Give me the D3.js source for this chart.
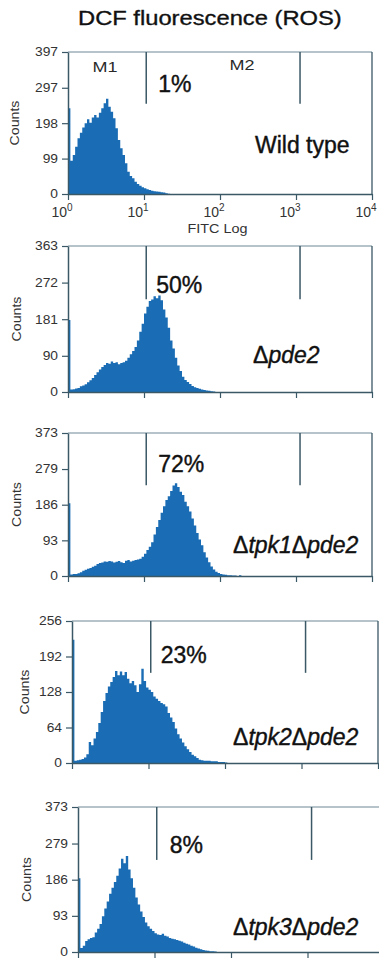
<!DOCTYPE html>
<html><head><meta charset="utf-8">
<script src="https://cdn.jsdelivr.net/npm/d3@7"></script>
<style>html,body{margin:0;padding:0;background:#fff;} svg{display:block;}</style>
</head><body><svg id="chart" width="379" height="962"></svg>
<script>
// ---------------- data ----------------
const title = "DCF fluorescence (ROS)";
const strains = ["Wild type", "Δpde2", "Δtpk1Δpde2", "Δtpk2Δpde2", "Δtpk3Δpde2"];
const percents = ["1%", "50%", "72%", "23%", "8%"];
const yMax = [397, 363, 373, 256, 373];
const yTicks = [
  [0, 99, 198, 297, 397],
  [0, 90, 181, 272, 363],
  [0, 93, 186, 279, 373],
  [0, 64, 128, 192, 256],
  [0, 93, 186, 279, 373]
];
const xTicks = [1, 10, 100, 1000, 10000];
const xTickExp = ["0", "1", "2", "3", "4"];
const gateEdges = [10.7, 1130];          // M1 | M2 marker positions (FITC)
const markerNames = ["M1", "M2"];
const channelsPerDecade = 32;            // histogram channel resolution

const countsWT = [240,93,109,132,156,171,186,198,209,199,214,221,214,227,240,254,266,244,230,212,184,151,128,109,86,62,50,44,34,28,23,19,16,13,11,9,8,7,6,5,4,2,1];
const countsPde2 = [179,6,7,9,10,14,16,19,24,29,35,42,49,56,62,67,72,70,76,72,74,69,72,74,78,85,94,102,112,128,150,170,195,212,226,230,238,233,240,228,205,185,160,128,108,85,66,52,38,30,25,20,15,12,10,8,6,5,4,3,2,1];
const countsTpk1 = [190,4,5,5,7,10,14,16,19,21,24,27,31,34,35,38,37,39,38,35,37,39,36,34,40,42,38,40,42,43,45,50,58,68,76,88,108,128,146,165,182,198,208,222,236,242,232,220,211,194,182,168,150,132,112,95,80,62,48,36,25,17,11,8,5,4,3,2,2,1,1,0,2];
const countsTpk2 = [222,4,5,6,7,10,16,38,32,44,56,72,92,112,126,138,146,155,166,158,165,158,164,152,144,148,140,128,142,170,148,136,132,128,120,116,112,108,106,102,90,82,74,62,52,44,37,30,25,20,15,12,9,6,5,4,4,4,3,3,3,2,2,2,1];
const countsTpk3 = [190,10,16,28,33,36,38,50,60,72,92,112,130,150,165,180,196,215,240,228,247,212,190,165,140,122,104,90,76,66,60,54,48,45,44,47,42,40,36,34,33,31,29,27,24,21,19,16,14,11,9,7,5,4,3,2,2,1];
const histograms = [countsWT, countsPde2, countsTpk1, countsTpk2, countsTpk3];

// ---------------- layout ----------------
const layout = [
  {l: 68, r: 372, t: 52,  b: 194, pctDx: 12, pctDy: 40, nameX: 255, nameY: 153, countsX: 15},
  {l: 68, r: 372, t: 246, b: 392, pctDx: 10, pctDy: 47, nameX: 253, nameY: 363, countsX: 17},
  {l: 68, r: 372, t: 433, b: 576, pctDx: 12, pctDy: 39, nameX: 233, nameY: 553, countsX: 17},
  {l: 72, r: 378, t: 621, b: 763, pctDx: 10, pctDy: 42, nameX: 233, nameY: 745, countsX: 25},
  {l: 78, r: 384, t: 807, b: 952, pctDx: 13, pctDy: 46, nameX: 233, nameY: 935, countsX: 27}
];
const FONT = "'Liberation Sans', Arial, Helvetica, sans-serif";
const AXIS = "#3b5866";
const FILL = "#1a6db4";
const TXT = "#333333";

const svg = d3.select("#chart");
svg.append("rect").attr("width", 379).attr("height", 962).attr("fill", "#fff");

function stretch(sel, k) {
  sel.each(function () {
    const w = this.getComputedTextLength();
    d3.select(this).attr("textLength", w * k).attr("lengthAdjust", "spacingAndGlyphs");
  });
}
function heavy(sel, w) {
  sel.attr("stroke", "#111").attr("stroke-width", w).attr("paint-order", "stroke");
}

// title
svg.append("text").attr("x", 78).attr("y", 25)
  .attr("font-family", FONT).attr("font-size", 21).attr("fill", "#111")
  .text(title).call(stretch, 1.13).call(heavy, 0.35);

histograms.forEach((counts, i) => {
  const L = layout[i];
  const g = svg.append("g");
  const x = d3.scaleLog().domain([xTicks[0], xTicks[xTicks.length - 1]]).range([L.l, L.r]);
  const y = d3.scaleLinear().domain([0, yMax[i]]).range([L.b, L.t]);

  // histogram (step area through scales)
  const pts = counts.map((v, c) => [Math.pow(10, c / channelsPerDecade), v]);
  pts.push([Math.pow(10, counts.length / channelsPerDecade), counts[counts.length - 1]]);
  const area = d3.area().curve(d3.curveStepAfter)
    .x(d => x(d[0])).y0(y(0)).y1(d => y(d[1]));
  g.append("path").datum(pts).attr("d", area).attr("fill", FILL);

  // frame top/right
  g.append("line").attr("x1", L.l).attr("x2", L.r).attr("y1", L.t).attr("y2", L.t)
    .attr("stroke", "#6f8794").attr("stroke-width", 1);
  g.append("line").attr("x1", L.r).attr("x2", L.r).attr("y1", L.t).attr("y2", L.b)
    .attr("stroke", AXIS).attr("stroke-width", 1.3);

  // gate markers
  gateEdges.forEach(v => {
    g.append("line").attr("x1", x(v)).attr("x2", x(v))
      .attr("y1", y(yMax[i])).attr("y2", y(yMax[i] * 0.635))
      .attr("stroke", AXIS).attr("stroke-width", 1.5);
  });

  // y axis
  const ya = g.append("g").attr("transform", `translate(${L.l},0)`)
    .call(d3.axisLeft(y).tickValues(yTicks[i]).tickSize(6).tickSizeOuter(0).tickPadding(4));
  ya.select(".domain").attr("stroke", AXIS).attr("stroke-width", 1.5);
  ya.selectAll(".tick line").attr("stroke", AXIS).attr("stroke-width", 1.2);
  ya.selectAll(".tick text").attr("font-family", FONT).attr("font-size", 12).attr("fill", TXT)
    .call(stretch, 1.15);

  // x axis
  const xa = g.append("g").attr("transform", `translate(0,${L.b})`)
    .call(d3.axisBottom(x).tickValues(xTicks).tickSize(6).tickSizeOuter(0).tickFormat(""));
  xa.select(".domain").attr("stroke", AXIS).attr("stroke-width", 1.5);
  xa.selectAll(".tick line").attr("stroke", AXIS).attr("stroke-width", 1.2);

  // Counts label
  g.append("text")
    .attr("transform", `translate(${L.countsX + 4},${(L.t + L.b) / 2}) rotate(-90)`)
    .attr("text-anchor", "middle").attr("font-family", FONT).attr("font-size", 12)
    .attr("fill", TXT).text("Counts").call(stretch, 1.18);

  // percent label
  g.append("text").attr("x", x(gateEdges[0]) + L.pctDx).attr("y", L.t + L.pctDy)
    .attr("font-family", FONT).attr("font-size", 23).attr("fill", "#111")
    .text(percents[i]).call(heavy, 0.4);

  // strain label
  const nt = g.append("text").attr("x", L.nameX).attr("y", L.nameY)
    .attr("font-family", FONT).attr("font-size", 23).attr("fill", "#111").call(heavy, 0.4);
  if (strains[i].indexOf("Δ") < 0) {
    nt.text(strains[i]);
  } else {
    strains[i].split(/(Δ)/).filter(s => s.length).forEach(s => {
      nt.append("tspan").attr("font-style", s === "Δ" ? "normal" : "italic").text(s);
    });
  }

  if (i === 0) {
    // x tick labels with superscripts
    xTicks.forEach((v, k) => {
      const t = g.append("text").attr("x", x(v) - 6).attr("y", L.b + 23)
        .attr("text-anchor", "middle").attr("font-family", FONT).attr("font-size", 14).attr("fill", TXT);
      t.append("tspan").text("10");
      t.append("tspan").attr("dy", -6).attr("font-size", 10).text(xTickExp[k]);
    });
    g.append("text").attr("x", 217.5).attr("y", L.b + 39).attr("text-anchor", "middle")
      .attr("font-family", FONT).attr("font-size", 12).attr("fill", TXT)
      .text("FITC Log").call(stretch, 1.2);
    // marker names
    g.append("text").attr("x", (x(1) + x(gateEdges[0])) / 2 - 2).attr("y", L.t + 20)
      .attr("text-anchor", "middle").attr("font-family", FONT).attr("font-size", 15).attr("fill", "#2a2a2a")
      .text(markerNames[0]).call(stretch, 1.2);
    g.append("text").attr("x", x(Math.sqrt(gateEdges[0] * gateEdges[1])) + 19).attr("y", L.t + 18)
      .attr("text-anchor", "middle").attr("font-family", FONT).attr("font-size", 15).attr("fill", "#2a2a2a")
      .text(markerNames[1]).call(stretch, 1.2);
  }
});
</script>
</body></html>
